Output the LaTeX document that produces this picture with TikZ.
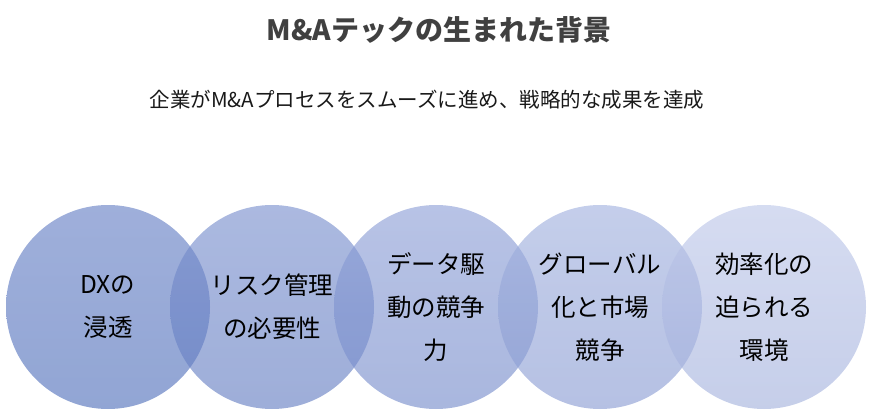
\documentclass[tikz,border=0pt]{standalone}
\usepackage{fontspec}
\setmainfont{Noto Sans CJK JP}
\definecolor{titlegray}{HTML}{404040}
\begin{document}
\begin{tikzpicture}[x=1pt,y=-1pt,
  bub/.style={circle,minimum size=204pt,inner sep=0pt,draw=none,fill opacity=0.62},
  lbl/.style={align=center,text=black,font=\fontsize{24.5}{43}\selectfont},
]
\useasboundingbox (0,0) rectangle (871,420);
\node[bub,top color={rgb,255:red,100;green,126;blue,196},bottom color={rgb,255:red,78;green,110;blue,186}] (c1) at (108,307) {};
\node[bub,top color={rgb,255:red,120;green,142;blue,205},bottom color={rgb,255:red,98;green,124;blue,193}] (c2) at (272,307) {};
\node[bub,top color={rgb,255:red,140;green,158;blue,214},bottom color={rgb,255:red,116;green,138;blue,202}] (c3) at (436,307) {};
\node[bub,top color={rgb,255:red,160;green,176;blue,222},bottom color={rgb,255:red,136;green,154;blue,210}] (c4) at (600,307) {};
\node[bub,top color={rgb,255:red,188;green,198;blue,232},bottom color={rgb,255:red,162;green,176;blue,220}] (c5) at (764,307) {};
\node[lbl] (t1) at (c1) {DXの\\浸透};
\node[lbl] (t2) at (c2) {リスク管理\\の必要性};
\node[lbl] (t3) at (c3) {データ駆\\動の競争\\力};
\node[lbl] (t4) at (c4) {グローバル\\化と市場\\競争};
\node[lbl] (t5) at (c5) {効率化の\\迫られる\\環境};
\node[font=\fontsize{28}{30}\selectfont\bfseries,text=titlegray] (title) at (439,30) {M\&Aテックの生まれた背景};
\node[font=\fontsize{20.5}{24}\selectfont,text=black!90] (sub) at (427,100) {企業がM\&Aプロセスをスムーズに進め、戦略的な成果を達成};
\end{tikzpicture}
\end{document}
